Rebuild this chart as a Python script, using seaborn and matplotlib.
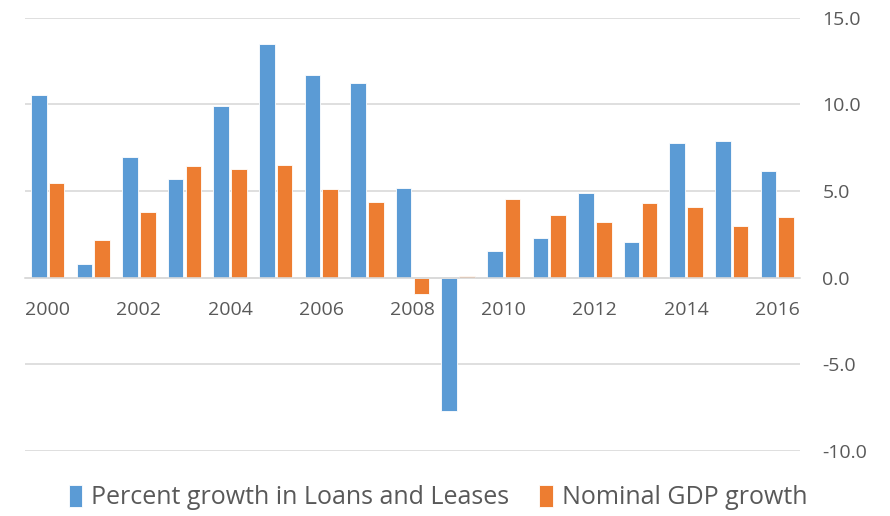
import pandas as pd
import seaborn as sns
import matplotlib.pyplot as plt
from matplotlib.ticker import FormatStrFormatter

# Valores
anos = list(range(2000, 2017))
emprestimos = [10.54, 0.81, 6.96, 5.70, 9.91, 13.48, 11.69, 11.23, 5.18,
               -7.67, 1.54, 2.27, 4.87, 2.06, 7.75, 7.90, 6.14]
pib_nominal = [5.48, 2.18, 3.77, 6.43, 6.29, 6.50, 5.10, 4.37, -0.94,
               0.10, 4.54, 3.62, 3.23, 4.31, 4.06, 2.98, 3.52]
series = ["Percent growth in Loans and Leases", "Nominal GDP growth"]
cores = ["#5b9bd5", "#ed7d31"]

df = pd.DataFrame({"ano": anos, series[0]: emprestimos, series[1]: pib_nominal})
df_long = df.melt(id_vars="ano", var_name="serie", value_name="valor")

sns.set_style("white")
plt.rcParams["font.family"] = ["Open Sans", "DejaVu Sans"]
cinza = "#595959"

fig = plt.figure(figsize=(8.9, 5.16), dpi=100)
ax = fig.add_axes([0.028, 0.126, 0.871, 0.84])

sns.barplot(data=df_long, x="ano", y="valor", hue="serie", hue_order=series,
            palette=cores, saturation=1, width=0.78, gap=0.12, ax=ax,
            legend=True, edgecolor="white", linewidth=0.6)

ax.set_ylim(-10, 15)
ax.set_xlim(-0.5, len(anos) - 0.5)
ax.set_yticks([-10, -5, 0, 5, 10, 15])
ax.yaxis.set_major_formatter(FormatStrFormatter("%.1f"))
ax.yaxis.tick_right()
ax.grid(axis="y", color="#d9d9d9", linewidth=1.2)
ax.set_axisbelow(True)
for lado in ["top", "left", "right"]:
    ax.spines[lado].set_visible(False)
ax.spines["bottom"].set_position(("data", 0))
ax.spines["bottom"].set_color("#d9d9d9")
ax.spines["bottom"].set_linewidth(1.2)

ax.set_xticks(range(0, len(anos), 2))
ax.set_xticklabels([str(a) for a in anos[::2]])
ax.tick_params(axis="x", length=0, labelsize=14, colors=cinza, pad=17)
ax.tick_params(axis="y", length=0, labelsize=14, colors=cinza, pad=16)
ax.set_xlabel("")
ax.set_ylabel("")

ax.legend_.remove()
handles, labels = ax.get_legend_handles_labels()
fig.legend(handles, labels, loc="center", bbox_to_anchor=(0.492, 0.036), ncol=2,
           frameon=False, fontsize=18, labelcolor=cinza, handlelength=0.55,
           handleheight=1.0, handletextpad=0.35, columnspacing=1.2)

plt.savefig("out.png", dpi=100)
